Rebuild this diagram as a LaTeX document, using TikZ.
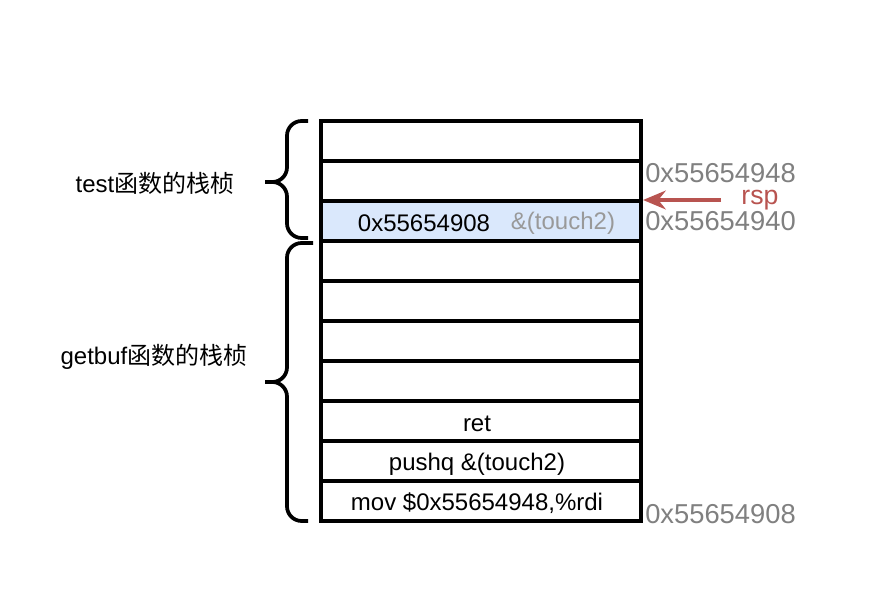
\documentclass[tikz,border=0pt]{standalone}
\usepackage{fontspec}
\setmainfont{Liberation Sans}
\newfontfamily\cjk{Noto Sans CJK SC}
\usepackage{xcolor}
\usepackage{tikz}
\usetikzlibrary{arrows.meta}

\definecolor{rowblue}{HTML}{DAE8FC}
\definecolor{addrgray}{HTML}{808080}
\definecolor{notegray}{HTML}{999999}
\definecolor{rspred}{HTML}{B85450}

\begin{document}
\begin{tikzpicture}[x=0.75pt, y=-0.75pt,
    cell/.style={draw=black, line width=2.8pt},
    txt/.style={font=\fontsize{18}{22}\selectfont},
    addr/.style={font=\fontsize{20.5}{24}\selectfont, text=addrgray, anchor=west, inner sep=0pt},
    curly/.style={draw=black, line width=2.8pt, rounded corners=11pt},
    ptr/.style={draw=rspred, line width=3pt, -{Stealth[length=17pt, width=14pt]}, shorten <=14pt}]

                \useasboundingbox (0,0) rectangle (888,596);

                %% stack
                \draw[cell] (321,121) rectangle (641,161);
                \draw[cell] (321,161) rectangle (641,201);
                \draw[cell, fill=rowblue] (321,201) rectangle (641,241);
                \draw[cell] (321,241) rectangle (641,281);
                \draw[cell] (321,281) rectangle (641,321);
                \draw[cell] (321,321) rectangle (641,361);
                \draw[cell] (321,361) rectangle (641,401);
                \draw[cell] (321,401) rectangle (641,441);
                \draw[cell] (321,441) rectangle (641,481);
                \draw[cell] (321,481) rectangle (641,521);

                \node[txt] (retaddr) at (424,223) {0x55654908};
                \node[txt, text=notegray] (touch) at (563,223) {\&(touch2)};
                \node[txt] (ret) at (477,424) {ret};
                \node[txt] (push) at (477,464) {pushq \&(touch2)};
                \node[txt] (mov) at (477,503) {mov \$0x55654948,\%rdi};

                %% addresses
                \node[addr] (a948) at (645,173) {0x55654948};
                \node[addr] (a940) at (645,221) {0x55654940};
                \node[addr] (a908) at (645,514) {0x55654908};

                %rsp
                \node[font=\fontsize{20}{24}\selectfont, text=rspred, inner sep=1pt] (rsp) at (760,200) {rsp};
                \coordinate (top) at (643,200);
                \draw[ptr] (rsp.west) -- (top);

                %% frames
                \draw[curly] (308,121) -| (287,182) -- (265,182);
                \draw[curly] (308,238) -| (287,182) -- (265,182);
                \node[txt] (test) at (155,183) {test{\cjk 函数的栈桢}};

                \draw[curly] (313,243) -| (287,382) -- (265,382);
                \draw[curly] (308,521) -| (287,382) -- (265,382);
                \node[txt] (getbuf) at (154,357) {getbuf{\cjk 函数的栈桢}};

            \end{tikzpicture}
\end{document}
